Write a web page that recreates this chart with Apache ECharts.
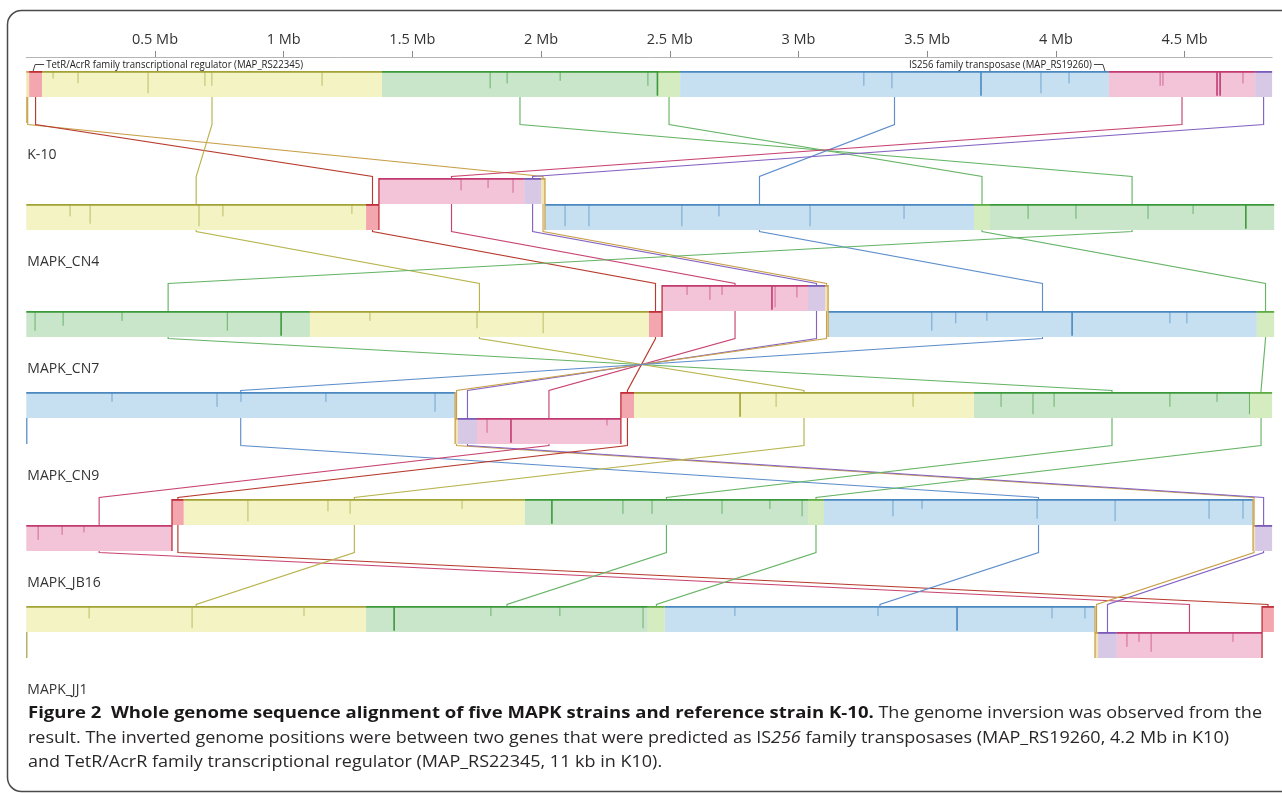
<!DOCTYPE html>
<html><head><meta charset="utf-8">
<script src="https://cdn.jsdelivr.net/npm/echarts@6/dist/echarts.min.js"></script>
<style>html,body{margin:0;padding:0;background:#fff}#c{width:1282px;height:793px}</style>
</head><body><div id="c"></div>
<script>
// ---------------- DATA ----------------
const genomeLength = 4.84; // Mb (K-10)
const tickValues = [0.5, 1, 1.5, 2, 2.5, 3, 3.5, 4, 4.5];
const tickLabels = ['0.5 Mb', '1 Mb', '1.5 Mb', '2 Mb', '2.5 Mb', '3 Mb', '3.5 Mb', '4 Mb', '4.5 Mb'];
const trackNames = ['K-10', 'MAPK_CN4', 'MAPK_CN7', 'MAPK_CN9', 'MAPK_JB16', 'MAPK_JJ1'];
const lcbIds = ['O', 'R', 'Y', 'G1', 'G2', 'B', 'P', 'V'];

// LCB blocks per genome: [lcb, start Mb, end Mb, band ('u' = above centre line, 'l' = below)]
const blocksK10 = [['O',0.000,0.011,'u'],['R',0.011,0.061,'u'],['Y',0.061,1.382,'u'],['G1',1.382,2.454,'u'],['G2',2.454,2.540,'u'],['B',2.540,4.206,'u'],['P',4.206,4.774,'u'],['V',4.774,4.840,'u']];
const blocksCN4 = [['Y',0.000,1.320,'l'],['R',1.320,1.370,'l'],['P',1.370,1.934,'u'],['V',1.934,2.000,'u'],['O',2.000,2.015,'u'],['B',2.015,3.682,'l'],['G2',3.682,3.744,'l'],['G1',3.744,4.848,'l']];
const blocksCN7 = [['G1',0.000,1.102,'l'],['Y',1.102,2.419,'l'],['R',2.419,2.470,'l'],['P',2.470,3.037,'u'],['V',3.037,3.103,'u'],['O',3.103,3.115,'u'],['B',3.115,4.781,'l'],['G2',4.781,4.848,'l']];
const blocksCN9 = [['B',0.000,1.666,'u'],['O',1.666,1.677,'l'],['V',1.677,1.751,'l'],['P',1.751,2.310,'l'],['R',2.310,2.361,'u'],['Y',2.361,3.682,'u'],['G1',3.682,4.754,'u'],['G2',4.754,4.840,'u']];
const blocksJB16 = [['P',0.000,0.566,'l'],['R',0.566,0.612,'u'],['Y',0.612,1.937,'u'],['G1',1.937,3.037,'u'],['G2',3.037,3.099,'u'],['B',3.099,4.766,'u'],['O',4.766,4.774,'l'],['V',4.774,4.840,'l']];
const blocksJJ1 = [['Y',0.000,1.320,'u'],['G1',1.320,2.415,'u'],['G2',2.415,2.481,'u'],['B',2.481,4.152,'u'],['O',4.152,4.164,'l'],['V',4.164,4.237,'l'],['P',4.237,4.801,'l'],['R',4.801,4.847,'u']];

// similarity-profile dips: [position Mb, relative depth]
const spikesK10 = [[0.104,.3],[0.201,.5],[0.473,.9],[0.694,.6],[0.721,.6],[1.149,.6],[1.802,.7],[1.868,.5],[2.074,.4],[2.415,.6],[2.452,1],[3.254,.6],[3.363,.7],[3.709,1],[3.942,.9],[4.051,.5],[4.405,.6],[4.416,.6],[4.626,1],[4.638,1],[4.727,.5]];
const spikesCN4 = [[0.170,.5],[0.248,.8],[0.671,.9],[0.764,.5],[1.265,.4],[1.689,.5],[1.794,.4],[1.891,.6],[2.093,.9],[2.186,.9],[2.547,.9],[2.691,.5],[3.045,.9],[3.410,.6],[3.892,.6],[4.078,.6],[4.358,.6],[4.533,.4],[4.738,1]];
const spikesCN7 = [[0.034,.8],[0.143,.6],[0.372,.4],[0.781,.8],[0.990,1],[1.335,.4],[1.751,.7],[2.008,.9],[2.567,.4],[2.656,.6],[2.703,.4],[2.897,1],[2.909,.9],[2.994,.5],[3.518,.8],[3.611,.5],[3.732,.4],[4.063,1],[4.443,.5],[4.509,.5]];
const spikesCN9 = [[0.333,.4],[0.741,.6],[0.834,.4],[1.164,.4],[1.588,.8],[1.790,.6],[1.883,1],[2.256,.3],[2.773,1],[2.913,.6],[3.445,.6],[3.787,.6],[3.911,.9],[3.993,.6],[4.443,.6],[4.626,.4],[4.752,.9]];
const spikesJB16 = [[0.046,.6],[0.139,.4],[0.224,.3],[0.861,.9],[1.172,.5],[1.258,.6],[1.693,.4],[2.042,1],[2.318,.6],[2.431,.6],[2.703,.6],[2.889,.4],[3.014,.7],[3.367,.7],[3.480,.4],[3.927,.8],[4.230,.9],[4.595,.8],[4.727,.8]];
const spikesJJ1 = [[0.244,.5],[0.644,.9],[1.079,.4],[1.429,1],[1.805,.4],[2.073,.4],[2.396,.9],[2.753,.4],[3.309,.4],[3.616,1],[3.985,.5],[4.113,.5],[4.276,.6],[4.323,.4],[4.370,.8],[4.688,.4]];

// gene annotations on K-10: [position Mb, text, side of leader]
const annotations = [[0.011, 'TetR/AcrR family transcriptional regulator (MAP_RS22345)', 'right'], [4.206, 'IS256 family transposase (MAP_RS19260)', 'left']];

const captionLines = [
  [['b', 'Figure 2  Whole genome sequence alignment of five MAPK strains and reference strain K-10.'], ['r', ' The genome inversion was observed from the']],
  [['r', 'result. The inverted genome positions were between two genes that were predicted as IS'], ['i', '256'], ['r', ' family transposases (MAP_RS19260, 4.2 Mb in K10)']],
  [['r', 'and TetR/AcrR family transcriptional regulator (MAP_RS22345, 11 kb in K10).']]
];

// ---------------- STYLE ----------------
const FILL = {O:'#f2e4b4', R:'#f4a6ae', Y:'#f3f3c4', G1:'#c9e6ca', G2:'#d5ebc0', B:'#c6e0f1', P:'#f3c4d8', V:'#d7c8e5'};
const DARK = {O:'#c9a24a', R:'#c0303a', Y:'#a2a236', G1:'#3b983b', G2:'#5fab45', B:'#4a88bf', P:'#c23a72', V:'#7b5bb8'};
const LINK = {O:'#c9a04a', R:'#b73b2e', Y:'#b8b44c', G1:'#66b466', G2:'#66b466', B:'#5e8fcb', P:'#c84470', V:'#8463c2'};
const TRACK_PX = 107, BAND = 26 / TRACK_PX, GAP = 27.5 / TRACK_PX, LABEL_OFF = 58 / TRACK_PX;
const FONT = 'Open Sans';

// ---------------- BUILD ----------------
const allBlocks = [blocksK10, blocksCN4, blocksCN7, blocksCN9, blocksJB16, blocksJJ1];
const allSpikes = [spikesK10, spikesCN4, spikesCN7, spikesCN9, spikesJB16, spikesJJ1];
const K = id => lcbIds.indexOf(id);

const blockData = [], edgeData = [], stubData = [], spikeData = [], linkData = [];
allBlocks.forEach((bl, t) => {
  bl.forEach((b, j) => {
    blockData.push([t, b[1], b[2], K(b[0]), b[3] === 'u' ? 1 : 0]);
    if (j > 0 && bl[j-1][3] !== b[3]) {
      const prev = bl[j-1];
      const small = (prev[2]-prev[1]) < (b[2]-b[1]) ? prev : b;
      edgeData.push([t, b[1], K(small[0])]);
    }
  });
  if (bl[0][3] === 'u') stubData.push([t, bl[0][1], K(bl[0][0])]);
  allSpikes[t].forEach(s => {
    const b = bl.find(q => s[0] >= q[1] && s[0] <= q[2]) || bl[bl.length-1];
    spikeData.push([t, s[0], s[1], K(b[0]), b[3] === 'u' ? 1 : 0]);
  });
  if (t < allBlocks.length - 1) {
    const nb = allBlocks[t+1];
    bl.forEach(b => {
      const m = nb.find(q => q[0] === b[0]);
      if (m) linkData.push([t, (b[1]+b[2])/2, b[3]==='u'?1:0, (m[1]+m[2])/2, m[3]==='u'?1:0, K(b[0])]);
    });
  }
});

const mctx = document.createElement('canvas').getContext('2d');
function measure(text, font) { mctx.font = font; return mctx.measureText(text).width; }

const CAP_SIZE = 16.5;
const capFonts = {b: 'bold ' + CAP_SIZE + 'px "' + FONT + '"', r: CAP_SIZE + 'px "' + FONT + '"', i: 'italic ' + CAP_SIZE + 'px "' + FONT + '"'};
const capStyle = {
  b: {fontWeight: 'bold', fill: '#1a1718'},
  r: {fontWeight: 'normal', fill: '#2a2728'},
  i: {fontWeight: 'normal', fontStyle: 'italic', fill: '#2a2728'}
};
// horizontal scale so that the ragged caption matches the figure's narrower type face
const regScale = 1201 / captionLines[1].reduce((s, p) => s + measure(p[1], capFonts[p[0]]), 0);
const boldScale = (1234 - measure(captionLines[0][1][1], capFonts.r) * regScale) / measure(captionLines[0][0][1], capFonts.b);
const partScale = k => k === 'b' ? boldScale : regScale;

const ANN_SIZE = 11;
const annScale = 257 / measure(annotations[0][1], ANN_SIZE + 'px "' + FONT + '"');

function unitPx(api) { return api.coord([0, 1])[1] - api.coord([0, 0])[1]; }

const chart = echarts.init(document.getElementById('c'), null, {renderer: 'canvas'});
const captionY = [713, 738, 762];
const graphics = [
  {type: 'rect', shape: {x: 7.5, y: 10.5, width: 1300, height: 781, r: 14}, style: {fill: 'none', stroke: '#4a4a4a', lineWidth: 1.5}, z: 0}
];
captionLines.forEach((ln, i) => {
  let x = 28;
  ln.forEach(p => {
    const s = partScale(p[0]);
    graphics.push({type: 'text', x: x, y: captionY[i], scaleX: s, z: 10,
      style: Object.assign({text: p[1], fontSize: CAP_SIZE, fontFamily: FONT, verticalAlign: 'middle', align: 'left'}, capStyle[p[0]])});
    x += measure(p[1], capFonts[p[0]]) * s;
  });
});

const common = {type: 'custom', xAxisIndex: 0, yAxisIndex: 0, silent: true, animation: false, clip: false};

chart.setOption({
  animation: false,
  grid: [
    {left: 26.3, width: 1245.8, top: 43.5, height: 642},
    {left: 26.3, width: 1245.8, top: 56, height: 1}
  ],
  xAxis: [
    {gridIndex: 0, type: 'value', min: 0, max: genomeLength, show: false},
    {gridIndex: 1, type: 'value', min: 0, max: genomeLength, position: 'top', interval: 0.5,
     axisLine: {show: true, lineStyle: {color: '#b5b5b5', width: 1}},
     axisTick: {show: true, length: 6, lineStyle: {color: '#8a8a8a', width: 1}, customValues: tickValues},
     axisLabel: {show: true, customValues: tickValues, margin: 9, fontSize: 14.5, fontFamily: FONT, color: '#333',
                 formatter: v => { const i = tickValues.findIndex(t => Math.abs(t - v) < 1e-6); return i >= 0 ? tickLabels[i] : ''; }},
     splitLine: {show: false}}
  ],
  yAxis: [
    {gridIndex: 0, type: 'value', min: -0.5, max: 5.5, inverse: true, show: false},
    {gridIndex: 1, type: 'value', show: false}
  ],
  graphic: graphics,
  series: [
    Object.assign({}, common, {name: 'links', z: 1, data: linkData, renderItem: (p, api) => {
      const t = api.value(0), u = unitPx(api);
      const A = api.coord([api.value(1), t]), B = api.coord([api.value(3), t + 1]);
      const h = BAND * u, g = GAP * u;
      const pts = [[A[0], api.value(2) ? A[1] : A[1] + h], [A[0], A[1] + g], [B[0], B[1] - g], [B[0], api.value(4) ? B[1] - h : B[1]]];
      return {type: 'polyline', shape: {points: pts}, style: {stroke: LINK[lcbIds[api.value(5)]], lineWidth: 1.15, fill: null}};
    }}),
    Object.assign({}, common, {name: 'stubs', z: 2, data: stubData, renderItem: (p, api) => {
      const t = api.value(0), u = unitPx(api), c = api.coord([api.value(1), t]);
      const x = c[0] + 0.5;
      return {type: 'line', shape: {x1: x, y1: c[1], x2: x, y2: c[1] + BAND * u}, style: {stroke: DARK[lcbIds[api.value(2)]], lineWidth: 1.2}};
    }}),
    Object.assign({}, common, {name: 'blocks', z: 3, data: blockData, renderItem: (p, api) => {
      const t = api.value(0), u = unitPx(api), h = BAND * u;
      const a = api.coord([api.value(1), t]), b = api.coord([api.value(2), t]);
      const id = lcbIds[api.value(3)];
      const top = api.value(4) ? a[1] - h : a[1];
      return {type: 'group', children: [
        {type: 'rect', shape: {x: a[0], y: top, width: b[0] - a[0], height: h}, style: {fill: FILL[id]}},
        {type: 'line', shape: {x1: a[0], y1: top + 0.9, x2: b[0], y2: top + 0.9}, style: {stroke: DARK[id], lineWidth: 1.8}}
      ]};
    }}),
    Object.assign({}, common, {name: 'spikes', z: 4, data: spikeData, renderItem: (p, api) => {
      const t = api.value(0), u = unitPx(api), h = BAND * u;
      const c = api.coord([api.value(1), t]);
      const d = api.value(2), id = lcbIds[api.value(3)];
      const top = api.value(4) ? c[1] - h : c[1];
      return {type: 'line', shape: {x1: c[0], y1: top, x2: c[0], y2: top + d * h * 0.95},
              style: {stroke: DARK[id], lineWidth: d >= 1 ? 1.6 : 0.9, opacity: d >= 1 ? 1 : 0.75}};
    }}),
    Object.assign({}, common, {name: 'edges', z: 5, data: edgeData, renderItem: (p, api) => {
      const t = api.value(0), u = unitPx(api), h = BAND * u;
      const c = api.coord([api.value(1), t]);
      return {type: 'line', shape: {x1: c[0], y1: c[1] - h, x2: c[0], y2: c[1] + h}, style: {stroke: DARK[lcbIds[api.value(2)]], lineWidth: 1.3}};
    }}),
    Object.assign({}, common, {name: 'labels', z: 6, data: trackNames.map((n, i) => [0, i]), renderItem: (p, api) => {
      const t = api.value(1), u = unitPx(api), c = api.coord([0, t]);
      return {type: 'text', x: c[0] + 1, y: c[1] + LABEL_OFF * u,
              style: {text: trackNames[p.dataIndex], fontSize: 14, fontFamily: FONT, fill: '#333', verticalAlign: 'middle', align: 'left'}};
    }}),
    Object.assign({}, common, {name: 'annotations', z: 6, data: annotations.map(a => [a[0], 0]), renderItem: (p, api) => {
      const an = annotations[p.dataIndex], u = unitPx(api), h = BAND * u;
      const c = api.coord([api.value(0), 0]);
      const top = c[1] - h, ly = top - 6.5;
      const dir = an[2] === 'right' ? 1 : -1;
      const x0 = c[0] + dir * 4, x1 = c[0] + dir * 6, x2 = c[0] + dir * 15;
      return {type: 'group', children: [
        {type: 'polyline', shape: {points: [[x0, top], [x1, ly], [x2, ly]]}, style: {stroke: '#444', lineWidth: 1, fill: null}},
        {type: 'text', x: x2 + dir * 2, y: ly, scaleX: annScale,
         style: {text: an[1], fontSize: ANN_SIZE, fontFamily: FONT, fill: '#222', verticalAlign: 'middle', align: dir > 0 ? 'left' : 'right'}}
      ]};
    }})
  ]
});
</script></body></html>
